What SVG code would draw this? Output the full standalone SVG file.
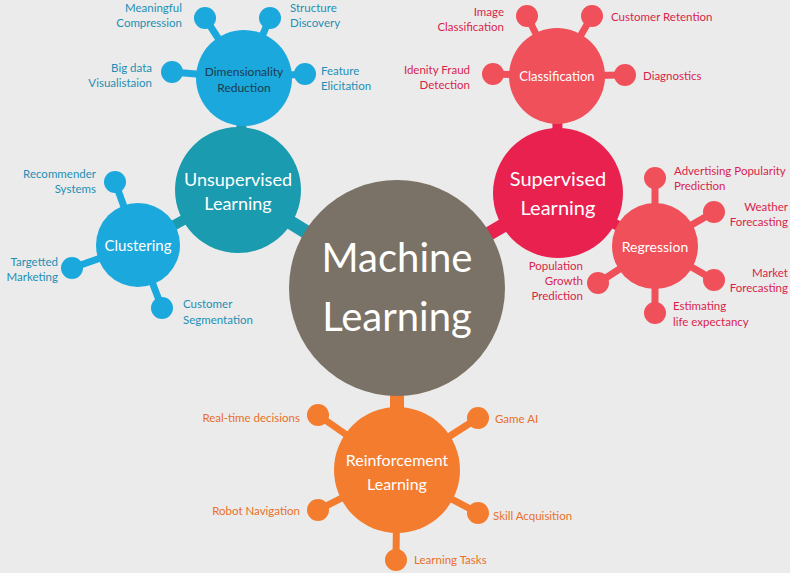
<svg xmlns="http://www.w3.org/2000/svg" width="790" height="573" viewBox="0 0 790 573">
<style>
text{font-family:"Lato","Liberation Sans",sans-serif}
.lb{fill:#1e8fb5;font-size:11.5px}
.lr{fill:#d91f4c;font-size:11.5px}
.lo{fill:#e8702a;font-size:11.5px}
.w{fill:#fff;text-anchor:middle}
.d{fill:#1d3b4f;text-anchor:middle;font-size:12px}
.cb{stroke:#1ba8dc;stroke-width:7}
.cr{stroke:#f0505a;stroke-width:7}
.co{stroke:#f47c2e;stroke-width:7}
</style>
<rect width="790" height="573" fill="#ebebeb"/>
<g id="connectors" fill="none">
<line x1="397" y1="288" x2="238" y2="190" stroke="#1a9bb0" stroke-width="14"/>
<line x1="397" y1="288" x2="558" y2="193" stroke="#e8214f" stroke-width="14"/>
<line x1="397" y1="288" x2="397" y2="470" stroke="#f47c2e" stroke-width="14"/>
<line x1="238" y1="190" x2="244" y2="78" stroke="#1a9bb0" stroke-width="10"/>
<line x1="238" y1="190" x2="138" y2="245" stroke="#1a9bb0" stroke-width="10"/>
<line x1="558" y1="193" x2="557" y2="76" stroke="#e8214f" stroke-width="10"/>
<line x1="558" y1="193" x2="655" y2="246" stroke="#e8214f" stroke-width="10"/>
<g class="cb"><line x1="244" y1="78" x2="205" y2="18"/><line x1="244" y1="78" x2="270" y2="18"/><line x1="244" y1="78" x2="172" y2="72"/><line x1="244" y1="78" x2="305" y2="74"/>
<line x1="138" y1="245" x2="115" y2="182"/><line x1="138" y1="245" x2="72" y2="268"/><line x1="138" y1="245" x2="162" y2="308"/></g>
<g class="cr"><line x1="557" y1="76" x2="527" y2="16"/><line x1="557" y1="76" x2="592" y2="16"/><line x1="557" y1="76" x2="493" y2="74"/><line x1="557" y1="76" x2="625" y2="75"/>
<line x1="655" y1="246" x2="655" y2="178"/><line x1="655" y1="246" x2="714" y2="212"/><line x1="655" y1="246" x2="714" y2="280"/><line x1="655" y1="246" x2="655" y2="313"/><line x1="655" y1="246" x2="598" y2="283"/></g>
<g class="co"><line x1="397" y1="470" x2="318" y2="415"/><line x1="397" y1="470" x2="478" y2="418"/><line x1="397" y1="470" x2="318" y2="510"/><line x1="397" y1="470" x2="478" y2="513"/><line x1="397" y1="470" x2="396" y2="560"/></g>
</g>
<g id="leaves-blue" fill="#1ba8dc"><circle cx="205" cy="18" r="11"/><circle cx="270" cy="18" r="11"/><circle cx="172" cy="72" r="11"/><circle cx="305" cy="74" r="11"/><circle cx="115" cy="182" r="11"/><circle cx="72" cy="268" r="11"/><circle cx="162" cy="308" r="11"/></g>
<g id="leaves-red" fill="#f0505a"><circle cx="527" cy="16" r="11"/><circle cx="592" cy="16" r="11"/><circle cx="493" cy="74" r="11"/><circle cx="625" cy="75" r="11"/><circle cx="655" cy="178" r="11"/><circle cx="714" cy="212" r="11"/><circle cx="714" cy="280" r="11"/><circle cx="655" cy="313" r="11"/><circle cx="598" cy="283" r="11"/></g>
<g id="leaves-orange" fill="#f47c2e"><circle cx="318" cy="415" r="11"/><circle cx="478" cy="418" r="11"/><circle cx="318" cy="510" r="11"/><circle cx="478" cy="513" r="11"/><circle cx="396" cy="560" r="11"/></g>
<g id="ml"><circle cx="397" cy="288" r="108" fill="#7a7266"/><text class="w" x="397" y="272" font-size="40">Machine</text><text class="w" x="397" y="331" font-size="40">Learning</text></g>
<g id="unsup"><circle cx="238" cy="190" r="63" fill="#1a9bb0"/><text class="w" x="238" y="186" font-size="18">Unsupervised</text><text class="w" x="238" y="210" font-size="18">Learning</text></g>
<g id="dim"><circle cx="244" cy="78" r="48" fill="#1ba8dc"/><text class="d" x="244" y="76">Dimensionality</text><text class="d" x="244" y="92">Reduction</text></g>
<g id="clus"><circle cx="138" cy="245" r="42" fill="#1ba8dc"/><text class="w" x="138" y="251" font-size="15">Clustering</text></g>
<g id="sup"><circle cx="558" cy="193" r="65" fill="#e8214f"/><text class="w" x="558" y="186" font-size="20">Supervised</text><text class="w" x="558" y="215" font-size="20">Learning</text></g>
<g id="cls"><circle cx="557" cy="76" r="48" fill="#f0505a"/><text class="w" x="557" y="81" font-size="13">Classification</text></g>
<g id="reg"><circle cx="655" cy="246" r="43" fill="#f0505a"/><text class="w" x="655" y="252" font-size="14">Regression</text></g>
<g id="rein"><circle cx="397" cy="470" r="63" fill="#f47c2e"/><text class="w" x="397" y="466" font-size="16">Reinforcement</text><text class="w" x="397" y="490" font-size="16">Learning</text></g>
<g id="labels">
<text class="lb" x="182" y="12" text-anchor="end">Meaningful</text><text class="lb" x="182" y="27" text-anchor="end">Compression</text>
<text class="lb" x="290" y="12">Structure</text><text class="lb" x="290" y="27">Discovery</text>
<text class="lb" x="152" y="72" text-anchor="end">Big data</text><text class="lb" x="152" y="87" text-anchor="end">Visualistaion</text>
<text class="lb" x="321" y="75">Feature</text><text class="lb" x="321" y="90">Elicitation</text>
<text class="lb" x="96" y="178" text-anchor="end">Recommender</text><text class="lb" x="96" y="193" text-anchor="end">Systems</text>
<text class="lb" x="58" y="266" text-anchor="end">Targetted</text><text class="lb" x="58" y="281" text-anchor="end">Marketing</text>
<text class="lb" x="183" y="308">Customer</text><text class="lb" x="183" y="324">Segmentation</text>
<text class="lr" x="504" y="16" text-anchor="end">Image</text><text class="lr" x="504" y="31" text-anchor="end">Classification</text>
<text class="lr" x="611" y="21">Customer Retention</text>
<text class="lr" x="470" y="74" text-anchor="end">Idenity Fraud</text><text class="lr" x="470" y="89" text-anchor="end">Detection</text>
<text class="lr" x="643" y="80">Diagnostics</text>
<text class="lr" x="674" y="175">Advertising Popularity</text><text class="lr" x="674" y="190">Prediction</text>
<text class="lr" x="788" y="211" text-anchor="end">Weather</text><text class="lr" x="788" y="226" text-anchor="end">Forecasting</text>
<text class="lr" x="788" y="277" text-anchor="end">Market</text><text class="lr" x="788" y="292" text-anchor="end">Forecasting</text>
<text class="lr" x="673" y="310">Estimating</text><text class="lr" x="673" y="326">life expectancy</text>
<text class="lr" x="583" y="270" text-anchor="end">Population</text><text class="lr" x="583" y="285" text-anchor="end">Growth</text><text class="lr" x="583" y="300" text-anchor="end">Prediction</text>
<text class="lo" x="300" y="422" text-anchor="end">Real-time decisions</text>
<text class="lo" x="495" y="423">Game AI</text>
<text class="lo" x="300" y="515" text-anchor="end">Robot Navigation</text>
<text class="lo" x="493" y="520">Skill Acquisition</text>
<text class="lo" x="414" y="564">Learning Tasks</text>
</g>
</svg>
